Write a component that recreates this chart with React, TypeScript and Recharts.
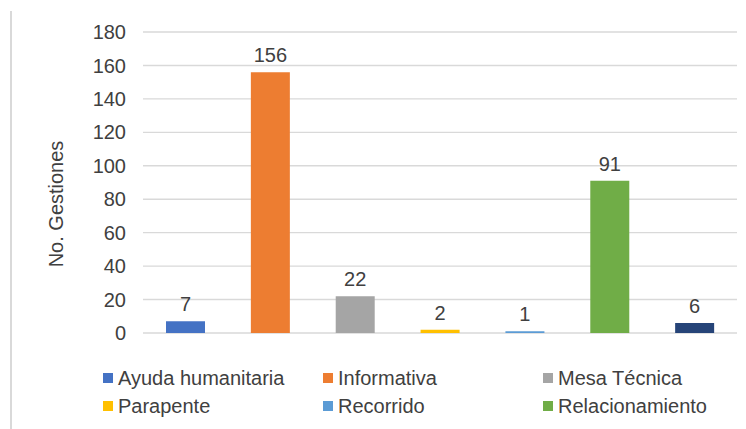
import React from "react";
import { BarChart, Bar, XAxis, YAxis, CartesianGrid, Cell, LabelList } from "recharts";

const categories = [
  "Ayuda humanitaria",
  "Informativa",
  "Mesa Técnica",
  "Parapente",
  "Recorrido",
  "Relacionamiento",
  "Otros",
];
const values = [7, 156, 22, 2, 1, 91, 6];
const colors = ["#4472C4", "#ED7D31", "#A5A5A5", "#FFC000", "#5B9BD5", "#70AD47", "#264478"];
const yTicks = [0, 20, 40, 60, 80, 100, 120, 140, 160, 180];
const legendCount = 6;

const data = categories.map((c, i) => ({ name: c, value: values[i], color: colors[i] }));

const FONT = "'Liberation Sans', Arial, sans-serif";
const TEXT = "#404040";

const LegendBlock = () => (
  <div style={{ position: "absolute", left: 0, top: 366, width: 746, height: 60, fontFamily: FONT }}>
    {categories.slice(0, legendCount).map((c, i) => {
      const col = i % 3;
      const row = Math.floor(i / 3);
      return (
        <div
          key={c}
          style={{
            position: "absolute",
            left: 103 + col * 220,
            top: row * 28,
            display: "flex",
            alignItems: "center",
            height: 24,
            fontSize: 20,
            color: TEXT,
            whiteSpace: "nowrap",
          }}
        >
          <span style={{ display: "inline-block", width: 10, height: 10, background: colors[i], marginRight: 5 }} />
          {c}
        </div>
      );
    })}
  </div>
);

const YLabel = () => (
  <text
    x={56}
    y={204}
    transform="rotate(-90 56 204)"
    textAnchor="middle"
    dominantBaseline="central"
    fontFamily={FONT}
    fontSize={20}
    fill={TEXT}
  >
    No. Gestiones
  </text>
);

export default function App() {
  return (
    <div style={{ position: "absolute", left: 0, top: 0, width: 746, height: 429, background: "#fff" }}>
      <div style={{ position: "absolute", left: 10, top: 11, width: 2, height: 418, background: "#D9D9D9" }} />
      <BarChart
        width={746}
        height={429}
        data={data}
        margin={{ top: 32, right: 9, bottom: 96, left: 0 }}
        barCategoryGap={0}
      >
        <CartesianGrid vertical={false} stroke="#D9D9D9" strokeWidth={1.4} />
        <XAxis dataKey="name" hide />
        <YAxis
          width={143}
          domain={[0, 180]}
          ticks={yTicks}
          axisLine={false}
          tickLine={false}
          tickSize={0}
          tickMargin={17}
          tick={{ fontSize: 20, fill: TEXT, fontFamily: FONT }}
          label={<YLabel />}
        />
        <Bar dataKey="value" barSize={39} isAnimationActive={false}>
          {data.map((d) => (
            <Cell key={d.name} fill={d.color} />
          ))}
          <LabelList dataKey="value" position="top" offset={10} style={{ fontSize: 20, fill: TEXT, fontFamily: FONT }} />
        </Bar>
      </BarChart>
      <LegendBlock />
    </div>
  );
}
